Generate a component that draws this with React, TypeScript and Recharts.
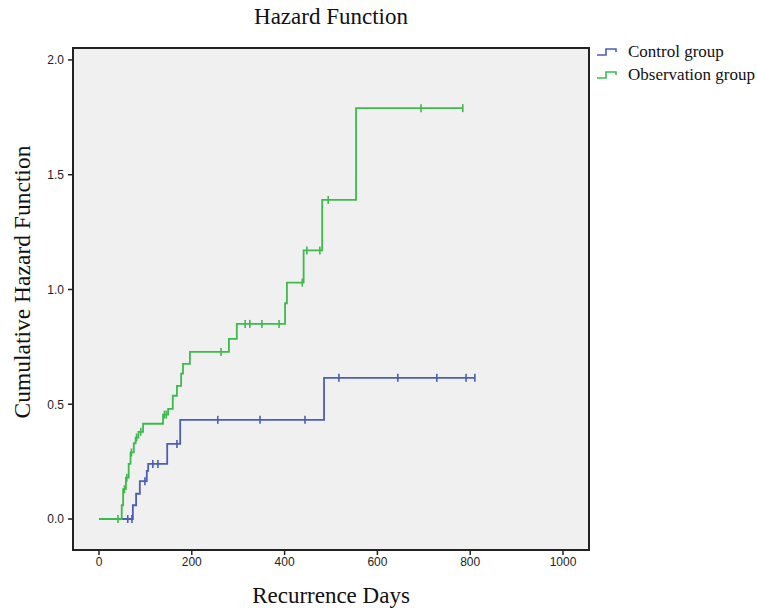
import React from 'react';
import {
  ComposedChart,
  Line,
  Scatter,
  XAxis,
  YAxis,
  CartesianGrid,
  ReferenceArea,
} from 'recharts';

// step points (day, cumulative hazard)
const controlDays = [0, 73, 80, 88, 103, 106, 147, 175, 485, 810];
const controlHazard = [0, 0.06, 0.11, 0.165, 0.21, 0.24, 0.327, 0.432, 0.615, 0.615];
const controlCensored = [62, 71, 99, 116, 127, 168, 256, 347, 444, 517, 644, 728, 791, 810];

const obsDays = [0, 49, 52, 58, 64, 68, 75, 79, 85, 95, 138, 149, 159, 168, 177, 181, 196, 280, 297, 401, 405, 441, 481, 554, 784];
const obsHazard = [0, 0.06, 0.13, 0.18, 0.24, 0.29, 0.33, 0.355, 0.38, 0.415, 0.455, 0.48, 0.537, 0.58, 0.633, 0.676, 0.728, 0.785, 0.85, 0.94, 1.03, 1.17, 1.39, 1.79, 1.79];
const obsCensored = [41, 55, 60, 70, 81, 90, 141, 145, 263, 315, 325, 351, 388, 438, 448, 476, 494, 694, 784];

const xTicks = [0, 200, 400, 600, 800, 1000];
const yTicks = [0, 0.5, 1.0, 1.5, 2.0];

const BLUE = '#4a5fb6';
const GREEN = '#3dba4b';
const SERIF = '"Liberation Serif", "Times New Roman", serif';
const SANS = '"Liberation Sans", Arial, sans-serif';

const toPoints = (days: number[], hz: number[]) => days.map((d, i) => ({ day: d, h: hz[i] }));

// hazard value of the step function at a censoring time
const censorPoints = (censored: number[], days: number[], hz: number[]) =>
  censored.map((c) => {
    let v = 0;
    days.forEach((d, i) => {
      if (d <= c) v = hz[i];
    });
    return { day: c, h: v };
  });

const controlLine = toPoints(controlDays, controlHazard);
const obsLine = toPoints(obsDays, obsHazard);
const controlMarks = censorPoints(controlCensored, controlDays, controlHazard);
const obsMarks = censorPoints(obsCensored, obsDays, obsHazard);

const tickMark = (color: string) => (props: any) => {
  const { cx, cy } = props;
  return <line x1={cx} x2={cx} y1={cy - 4} y2={cy + 4} stroke={color} strokeWidth={1.6} />;
};

const StepIcon = ({ color }: { color: string }) => (
  <svg width={26} height={12} style={{ marginRight: 6 }}>
    <polyline points="1,9 10,9 10,3 20,3 20,6" fill="none" stroke={color} strokeWidth={1.6} />
  </svg>
);

const LegendBox = () => (
  <div
    style={{
      position: 'absolute',
      left: 596,
      top: 40,
      fontFamily: SERIF,
      fontSize: 17,
      color: '#111',
      lineHeight: '23px',
    }}
  >
    <div style={{ display: 'flex', alignItems: 'center' }}>
      <StepIcon color={BLUE} />
      Control group
    </div>
    <div style={{ display: 'flex', alignItems: 'center' }}>
      <StepIcon color={GREEN} />
      Observation group
    </div>
  </div>
);

export default function App() {
  return (
    <div style={{ position: 'absolute', left: 0, top: 0, width: 757, height: 613, background: '#fff' }}>
      <ComposedChart
        width={757}
        height={613}
        margin={{ top: 48, right: 168, bottom: 33, left: 13 }}
        style={{ position: 'absolute', left: 0, top: 0 }}
      >
        <CartesianGrid fill="#f0f0f0" horizontal={false} vertical={false} />
        <XAxis
          type="number"
          dataKey="day"
          domain={[-56, 1056]}
          ticks={xTicks}
          allowDataOverflow
          height={30}
          tickSize={5}
          tickLine={{ stroke: '#222', strokeWidth: 1.5 }}
          axisLine={false}
          tick={{ fill: '#222', fontSize: 12, fontFamily: SANS }}
        />
        <YAxis
          type="number"
          dataKey="h"
          domain={[-0.135, 2.052]}
          ticks={yTicks}
          allowDataOverflow
          width={60}
          tickSize={5}
          tickMargin={4}
          tickLine={{ stroke: '#222', strokeWidth: 1.5 }}
          axisLine={false}
          tickFormatter={(v: number) => v.toFixed(1)}
          tick={{ fill: '#222', fontSize: 12, fontFamily: SANS }}
        />
        <Line
          data={controlLine}
          dataKey="h"
          type="stepAfter"
          stroke={BLUE}
          strokeWidth={1.8}
          dot={false}
          activeDot={false}
          isAnimationActive={false}
          name="Control group"
        />
        <Line
          data={obsLine}
          dataKey="h"
          type="stepAfter"
          stroke={GREEN}
          strokeWidth={1.8}
          dot={false}
          activeDot={false}
          isAnimationActive={false}
          name="Observation group"
        />
        <Scatter data={controlMarks} dataKey="h" shape={tickMark(BLUE)} isAnimationActive={false} />
        <Scatter data={obsMarks} dataKey="h" shape={tickMark(GREEN)} isAnimationActive={false} />
        <ReferenceArea x1={-56} x2={1056} y1={-0.135} y2={2.052} fill="none" stroke="#222" strokeWidth={2} />
      </ComposedChart>
      <div
        style={{
          position: 'absolute',
          left: 73,
          width: 516,
          top: 4,
          textAlign: 'center',
          fontFamily: SERIF,
          fontSize: 23,
          color: '#111',
        }}
      >
        Hazard Function
      </div>
      <div
        style={{
          position: 'absolute',
          left: 73,
          width: 516,
          top: 583,
          textAlign: 'center',
          fontFamily: SERIF,
          fontSize: 23,
          color: '#111',
        }}
      >
        Recurrence Days
      </div>
      <div
        style={{
          position: 'absolute',
          left: 22,
          top: 282,
          transform: 'translate(-50%, -50%) rotate(-90deg)',
          whiteSpace: 'nowrap',
          fontFamily: SERIF,
          fontSize: 23.5,
          color: '#111',
        }}
      >
        Cumulative Hazard Function
      </div>
      <LegendBox />
    </div>
  );
}
